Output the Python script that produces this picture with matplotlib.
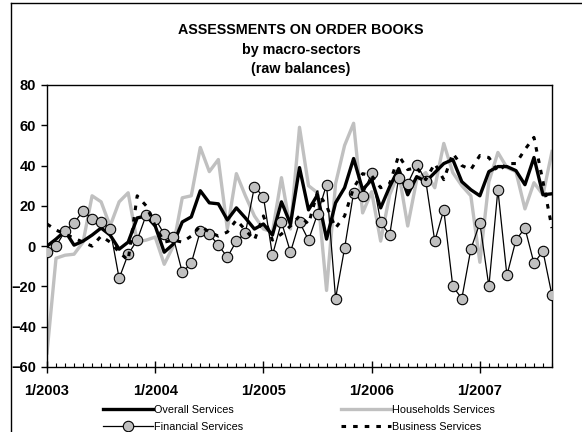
import numpy as np
import matplotlib
matplotlib.use("Agg")
import matplotlib.pyplot as plt
from matplotlib.lines import Line2D
from matplotlib.ticker import MultipleLocator

plt.rcParams['font.family'] = ['Liberation Sans', 'DejaVu Sans']

# monthly raw balances, 1/2003 .. 9/2007
overall = [0, 3.5, 7.5, 0.5, 2.5, 5.5, 9, 5.5, -1.5, 2, 14, 15, 10, -3, 1,
           12, 14.5, 27.5, 21.5, 21, 13, 19, 14, 8.5, 11, 5.5, 22, 11, 39, 18,
           25.5, 3.5, 21.5, 29, 43.5, 28, 33, 19, 29.5, 38.5, 25.5, 34.5, 32,
           36.5, 41, 43, 32, 28, 25, 37, 39.5, 39.5, 37.5, 30.5, 44, 25.5, 26]
households = [-53, -6, -4.5, -4, 2, 25, 22, 10, 22, 26.5, 2, 3, 4.5, -9, 0,
              24, 25, 49, 37, 43, 8.5, 36, 25, 15, 8.5, 7, 34, 8.5, 59, 30,
              26.5, -22, 31, 50, 61, 16.5, 27, 2.5, 25.5, 36.5, 10, 33, 36.5,
              29, 51, 36.5, 30, 25, -8, 32, 46.5, 39, 37, 18.5, 31.5, 25.5, 47]
financial = [-3, 0, 7.5, 11.5, 17.5, 13.5, 12, 8.5, -16, -4, 3, 15.5, 13.5, 6,
             4.5, -13, -8.5, 7.5, 6, 0.5, -5.5, 2.5, 6.5, 29.5, 24.5, -4.5, 12,
             -3, 12, 3, 16, 30.5, -26, -1, 26.5, 25, 36.5, 12, 5.5, 34, 31,
             40.5, 32.5, 2.5, 18, -20, -26, -1.5, 11.5, -20, 28, -14.5, 3, 9,
             -8.5, -2.5, -24.5]
business = [11, 8, 6, 4, 2, 0, 5, 2, -3, -7, 25, 20, 10, 2, 3, 2, 5, 10, 7, 5,
            7, 13, 8, 3, 15, 3, 6, 10, 15, 11, 27, 20, 9, 15, 29, 36, 35, 29,
            31, 45, 38, 39, 33, 41, 33, 46, 40, 38, 45, 44, 37, 41, 41, 48, 54,
            32, 9]

year_labels = ['1/2003', '1/2004', '1/2005', '1/2006', '1/2007']
x = np.arange(len(overall))

fig = plt.figure(figsize=(5.82, 4.32), dpi=100)
ax = fig.add_axes([47 / 582, 1 - 367 / 432, 505 / 582, 282 / 432])

ax.plot(x, overall, color='black', lw=2.4, label='Overall Services', zorder=3)
ax.plot(x, households, color='#c0c0c0', lw=2.4, label='Households Services', zorder=2)
ax.plot(x, financial, color='black', lw=0.9, marker='o', markersize=7.5,
        markerfacecolor='#c0c0c0', markeredgecolor='black', markeredgewidth=0.8,
        label='Financial Services', zorder=4)
ax.plot(x, business, color='black', lw=2.2, linestyle=(0, (1.5, 2.3)),
        label='Business Services', zorder=5)

ax.set_xlim(0, len(x) - 1)
ax.set_ylim(-60, 80)
ax.yaxis.set_major_locator(MultipleLocator(20))
ax.set_xticks(np.arange(0, len(x), 12))
ax.set_xticklabels(year_labels)
ax.xaxis.set_minor_locator(MultipleLocator(1))
ax.tick_params(axis='x', which='major', direction='inout', length=9, width=1,
               pad=7.5, labelsize=10.5)
ax.tick_params(axis='x', which='minor', direction='in', length=3, width=0.8)
ax.tick_params(axis='y', direction='out', length=4, width=1, pad=4, labelsize=10.5)
for lab in ax.get_xticklabels() + ax.get_yticklabels():
    lab.set_fontweight('bold')
for s in ax.spines.values():
    s.set_linewidth(1)

fig.text(301 / 582, 1 - 30 / 432, 'ASSESSMENTS ON ORDER BOOKS', ha='center',
         va='center', fontsize=10.3, fontweight='bold')
fig.text(301 / 582, 1 - 50 / 432, 'by macro-sectors', ha='center',
         va='center', fontsize=10.3, fontweight='bold')
fig.text(301 / 582, 1 - 69 / 432, '(raw balances)', ha='center',
         va='center', fontsize=10.3, fontweight='bold')

h, l = ax.get_legend_handles_labels()
leg1 = fig.legend([h[0], h[2]], [l[0], l[2]], loc='upper left',
                  bbox_to_anchor=(103 / 582, 1 - 405 / 432), frameon=False,
                  fontsize=7.8, handlelength=4.6, handletextpad=0.1,
                  borderpad=0, borderaxespad=0, labelspacing=0.6, numpoints=1)
leg2 = fig.legend([h[1], h[3]], [l[1], l[3]], loc='upper left',
                  bbox_to_anchor=(341 / 582, 1 - 405 / 432), frameon=False,
                  fontsize=7.8, handlelength=4.6, handletextpad=0.1,
                  borderpad=0, borderaxespad=0, labelspacing=0.6, numpoints=1)

# chart area frame (left and top edges visible)
fig.add_artist(Line2D([11 / 582, 11 / 582], [0, 1 - 3 / 432], color='black', lw=1))
fig.add_artist(Line2D([11 / 582, 1], [1 - 3 / 432, 1 - 3 / 432], color='black', lw=1))

fig.savefig('out.png', dpi=100)
